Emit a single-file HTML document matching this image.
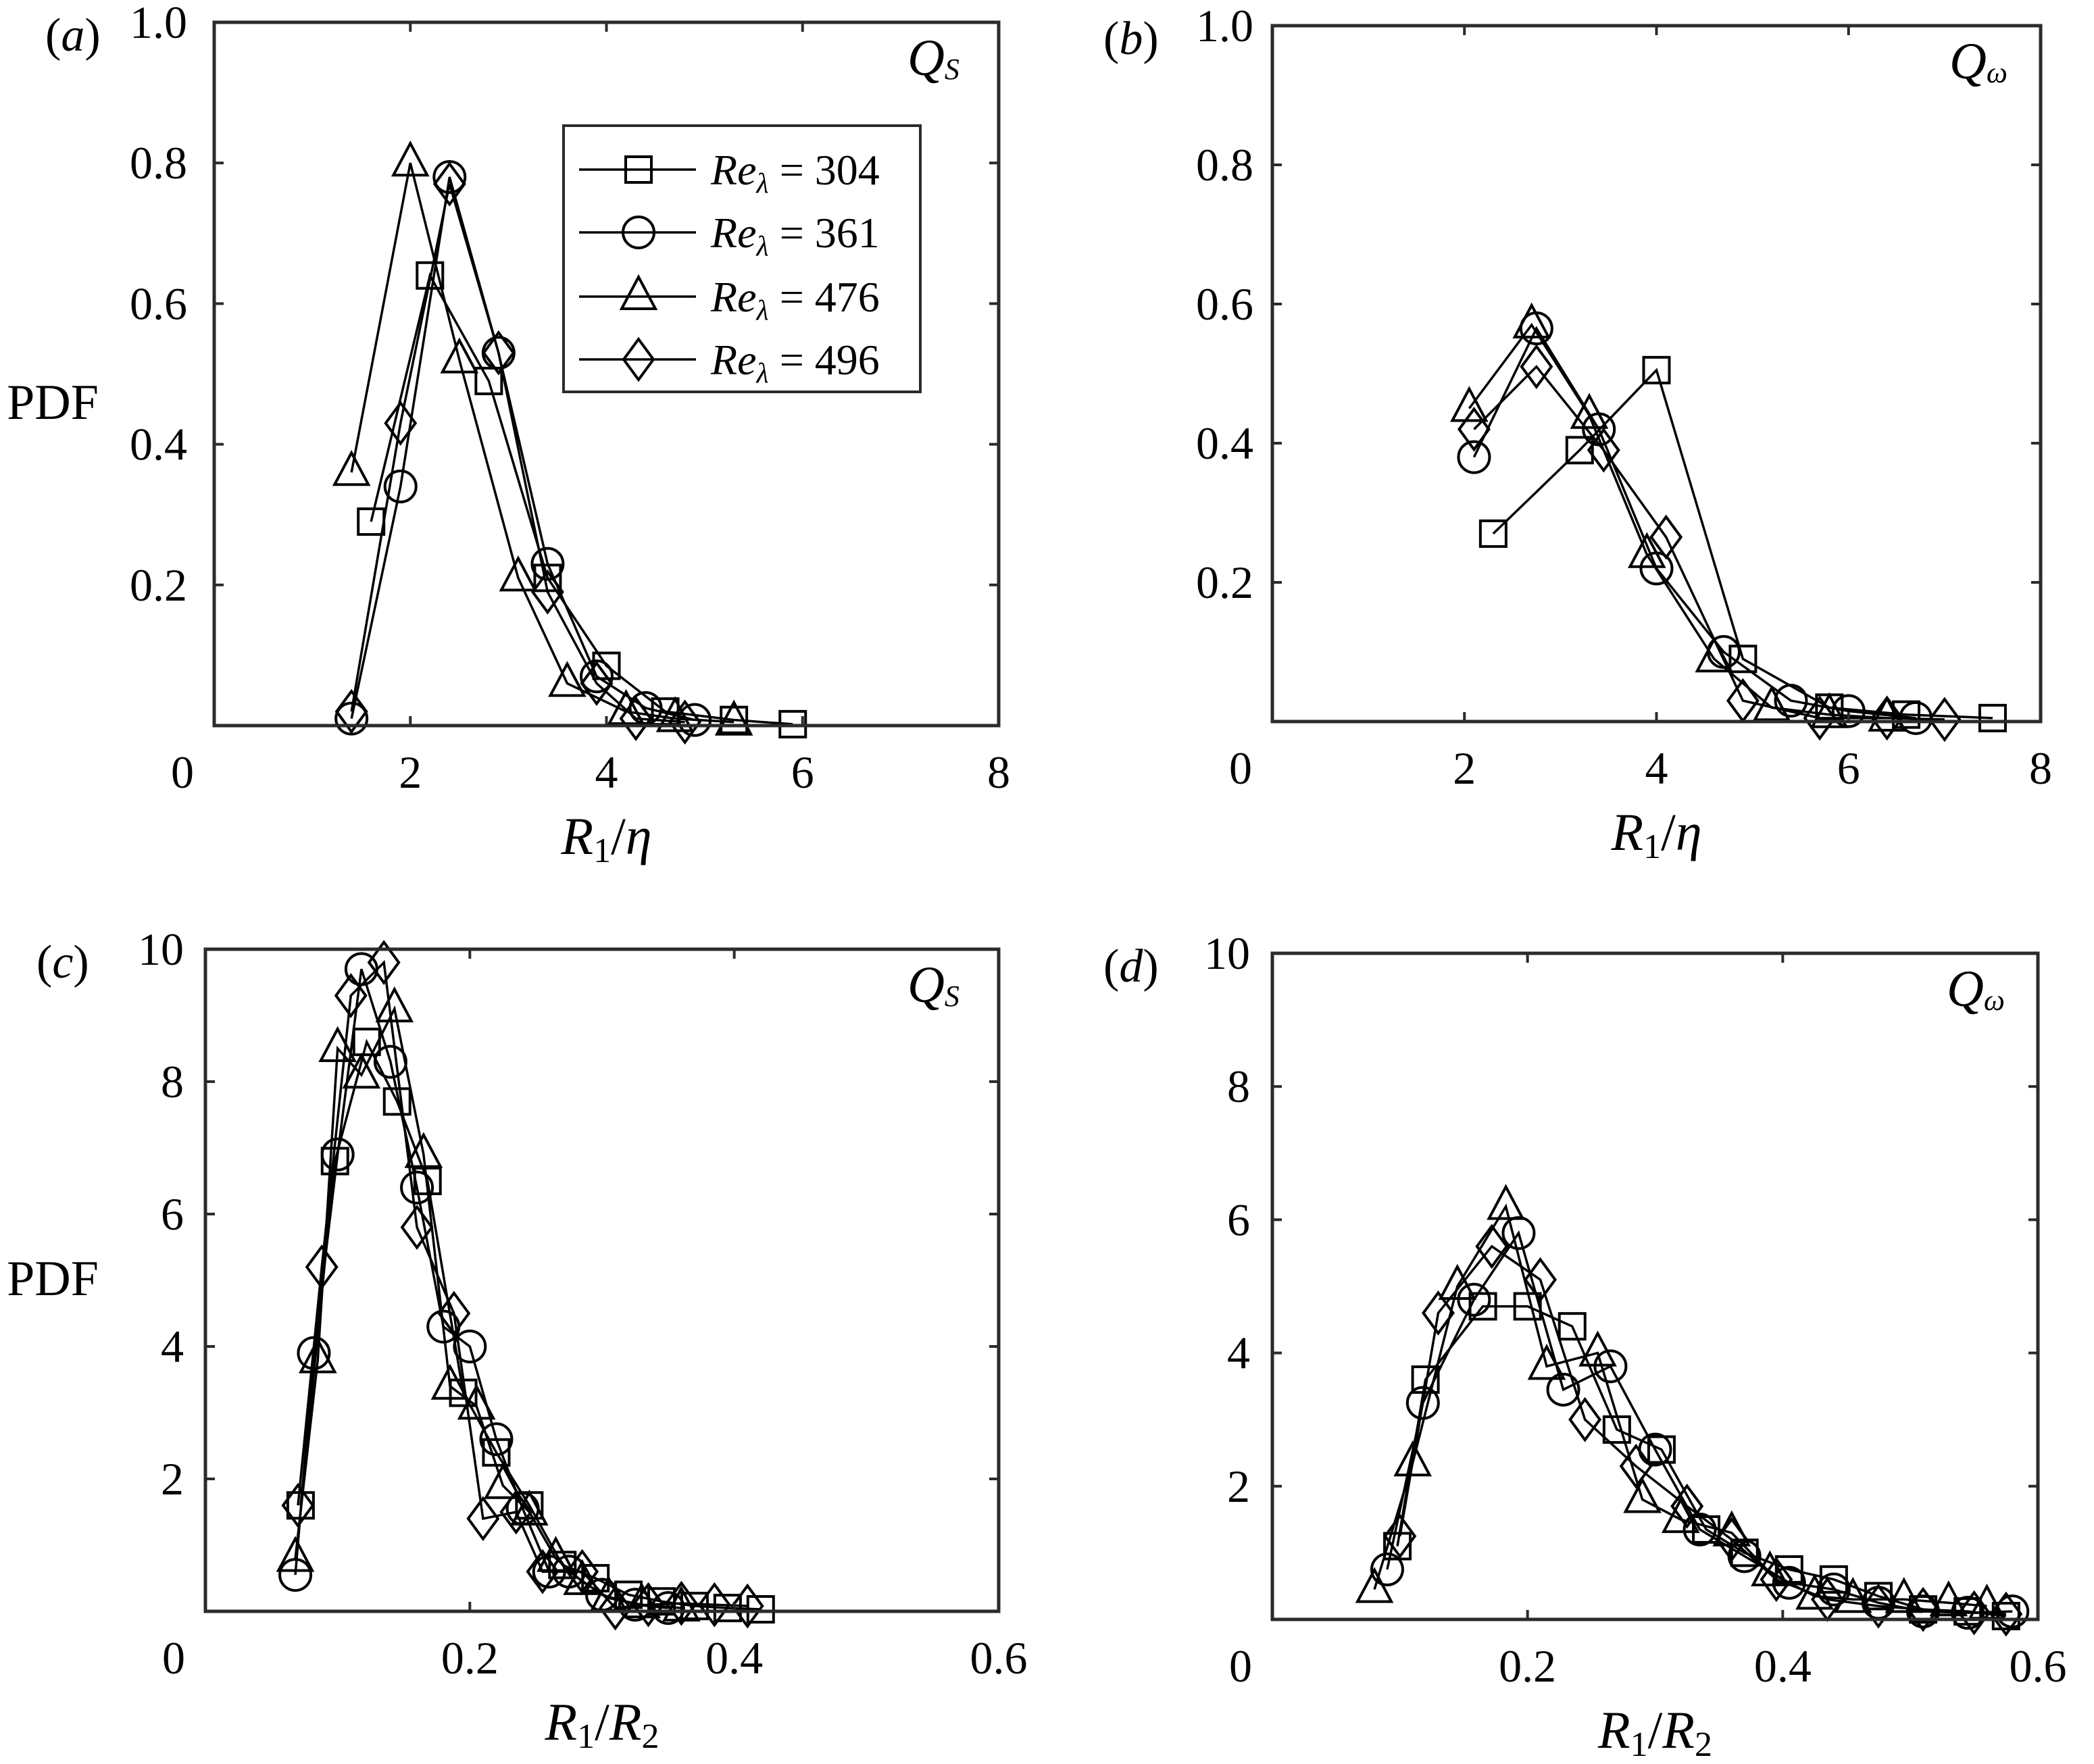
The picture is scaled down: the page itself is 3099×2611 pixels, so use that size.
<!DOCTYPE html>
<html><head><meta charset="utf-8"><style>
html,body{margin:0;padding:0;background:#fff;}
svg{display:block;font-family:"Liberation Serif","Times New Roman",serif;}
svg text{font-family:"Liberation Serif","Times New Roman",serif;fill:#000;}
</style></head><body>
<svg id="fig" width="3099" height="2611" viewBox="0 0 3099 2611" xmlns="http://www.w3.org/2000/svg" font-family="Liberation Serif, serif"></svg>
<script>
// ---- data (x, y pairs per series) ----
const seriesNames = ["304","361","476","496"];
const markerTypes = ["square","circle","triangle","diamond"];

const aSqX=[1.6,2.2,2.8,3.4,4.0,4.6,5.3,5.9];
const aSqY=[0.29,0.64,0.49,0.21,0.085,0.02,0.008,0.002];
const aCiX=[1.4,1.9,2.4,2.9,3.4,3.9,4.4,4.9];
const aCiY=[0.01,0.34,0.78,0.53,0.23,0.07,0.025,0.008];
const aTrX=[1.4,2.0,2.5,3.1,3.6,4.2,4.7,5.3];
const aTrY=[0.36,0.80,0.52,0.21,0.06,0.02,0.01,0.005];
const aDiX=[1.4,1.9,2.4,2.9,3.4,3.9,4.3,4.8];
const aDiY=[0.02,0.43,0.77,0.53,0.19,0.06,0.01,0.005];

const bSqX=[2.3,3.2,4.0,4.9,5.8,6.6,7.5];
const bSqY=[0.27,0.39,0.505,0.09,0.02,0.01,0.005];
const bCiX=[2.1,2.75,3.4,4.0,4.7,5.4,6.0,6.7];
const bCiY=[0.38,0.565,0.42,0.22,0.10,0.03,0.015,0.005];
const bTrX=[2.05,2.7,3.3,3.9,4.6,5.2,5.8,6.4];
const bTrY=[0.45,0.57,0.44,0.24,0.09,0.02,0.01,0.005];
const bDiX=[2.1,2.75,3.45,4.1,4.9,5.7,6.4,7.0];
const bDiY=[0.42,0.51,0.39,0.265,0.03,0.005,0.005,0.003];

const cSqX=[0.072,0.098,0.122,0.145,0.168,0.195,0.22,0.245,0.27,0.295,0.32,0.345,0.37,0.395,0.42];
const cSqY=[1.6,6.8,8.6,7.7,6.5,3.3,2.4,1.6,0.7,0.5,0.25,0.15,0.08,0.05,0.03];
const cCiX=[0.068,0.082,0.10,0.118,0.14,0.16,0.18,0.2,0.22,0.24,0.26,0.275,0.3,0.325,0.35];
const cCiY=[0.55,3.9,6.9,9.7,8.3,6.4,4.3,4.0,2.6,1.55,0.6,0.6,0.25,0.1,0.05];
const cTrX=[0.068,0.085,0.1,0.118,0.143,0.165,0.185,0.205,0.225,0.245,0.265,0.285,0.305,0.33,0.36];
const cTrY=[0.8,3.8,8.5,8.1,9.1,6.9,3.4,3.1,1.9,1.5,0.8,0.45,0.2,0.1,0.05];
const cDiX=[0.07,0.088,0.11,0.135,0.16,0.188,0.21,0.235,0.255,0.285,0.31,0.335,0.36,0.385,0.41];
const cDiY=[1.6,5.2,9.3,9.8,5.8,4.5,1.4,1.5,0.6,0.6,0.05,0.1,0.12,0.1,0.08];

const dSqX=[0.098,0.12,0.165,0.2,0.235,0.27,0.305,0.34,0.37,0.405,0.44,0.475,0.51,0.545,0.575];
const dSqY=[1.1,3.6,4.7,4.7,4.4,2.85,2.55,1.35,1.0,0.75,0.6,0.35,0.15,0.12,0.05];
const dCiX=[0.09,0.118,0.158,0.193,0.228,0.265,0.3,0.335,0.37,0.405,0.44,0.475,0.51,0.545,0.58];
const dCiY=[0.75,3.25,4.8,5.8,3.45,3.8,2.55,1.35,0.95,0.55,0.45,0.25,0.12,0.1,0.12];
const dTrX=[0.08,0.11,0.145,0.183,0.215,0.255,0.29,0.32,0.36,0.39,0.425,0.455,0.495,0.53,0.56];
const dTrY=[0.45,2.35,5.0,6.2,3.8,4.0,1.8,1.5,1.3,0.7,0.35,0.3,0.3,0.25,0.2];
const dDiX=[0.1,0.13,0.172,0.21,0.245,0.285,0.325,0.36,0.395,0.435,0.475,0.51,0.55,0.575];
const dDiY=[1.25,4.6,5.6,5.1,3.0,2.3,1.7,1.2,0.6,0.3,0.2,0.15,0.1,0.08];

const xTicksAB=[2,4,6,8], xTickLabelsAB=["2","4","6","8"];
const yTicksAB=[0.2,0.4,0.6,0.8,1.0], yTickLabelsAB=["0.2","0.4","0.6","0.8","1.0"];
const xTicksCD=[0.2,0.4,0.6], xTickLabelsCD=["0.2","0.4","0.6"];
const yTicksCD=[2,4,6,8,10], yTickLabelsCD=["2","4","6","8","10"];

const NS="http://www.w3.org/2000/svg";
const FONT='"Liberation Serif", serif';
const svg=document.getElementById('fig');
function mk(tag,attrs,parent){const e=document.createElementNS(NS,tag);for(const k in attrs)e.setAttribute(k,attrs[k]);if(tag==='text')e.setAttribute('font-family',FONT);(parent||svg).appendChild(e);return e;}

function marker(g,type,cx,cy){
  let e;
  if(type==="square") e=mk('rect',{x:cx-19,y:cy-19,width:38,height:38},g);
  else if(type==="circle") e=mk('circle',{cx:cx,cy:cy,r:23},g);
  else if(type==="triangle") e=mk('polygon',{points:`${cx},${cy-29} ${cx-25},${cy+18} ${cx+25},${cy+18}`},g);
  else e=mk('polygon',{points:`${cx},${cy-30} ${cx+22},${cy} ${cx},${cy+30} ${cx-22},${cy}`},g);
  e.setAttribute('fill','none');e.setAttribute('stroke','#000');e.setAttribute('stroke-width','4');
  return e;
}

function panel(id,box,xmax,ymax,xt,xtl,yt,ytl,series,label,qText,qSub,xTitle2,yLabOff){
  const {L,T,R,B}=box;
  const sx=v=>L+(v/xmax)*(R-L), sy=v=>B-(v/ymax)*(B-T);
  const g=mk('g',{});
  
  
  series.forEach((s,i)=>{
    const sg=mk('g',{},g);
    
    
    const pts=s[0].map((x,j)=>sx(x)+','+sy(s[1][j])).join(' ');
    mk('polyline',{points:pts,fill:'none',stroke:'#000','stroke-width':3.5},sg);
    s[0].forEach((x,j)=>{const m=marker(sg,markerTypes[i],sx(x),sy(s[1][j]));
      
      });
  });
  const ax=mk('rect',{x:L,y:T,width:R-L,height:B-T,fill:'none',stroke:'#2b2b2b','stroke-width':5},g);
  
  
  xt.forEach((v,i)=>{const x=sx(v);
    mk('line',{x1:x,y1:B,x2:x,y2:B-14,stroke:'#2b2b2b','stroke-width':4},g);
    mk('line',{x1:x,y1:T,x2:x,y2:T+14,stroke:'#2b2b2b','stroke-width':4},g);
    const t=mk('text',{x:x,y:B+92,'font-size':68,'text-anchor':'middle'},g);t.textContent=xtl[i];
    
    });
  yt.forEach((v,i)=>{const y=sy(v);
    mk('line',{x1:L,y1:y,x2:L+14,y2:y,stroke:'#2b2b2b','stroke-width':4},g);
    mk('line',{x1:R,y1:y,x2:R-14,y2:y,stroke:'#2b2b2b','stroke-width':4},g);
    const t=mk('text',{x:L-yLabOff,y:y+23,'font-size':68,'text-anchor':'end'},g);t.textContent=ytl[i];
    
    });
  const z=mk('text',{x:L-30,y:B+92,'font-size':68,'text-anchor':'end'},g);z.textContent='0';
  
  
  const pl=mk('text',{x:L-250,y:T+42,'font-size':70},g);
  pl.innerHTML='(<tspan font-style="italic">'+label+'</tspan>)';
  
  
  const q=mk('text',{x:R-135,y:T+78,'font-size':76,'font-style':'italic'},g);
  q.innerHTML='Q<tspan font-size="44" dy="6">'+qSub+'</tspan>';
  
  
  const xtEl=mk('text',{x:(L+R)/2,y:B+190,'font-size':78,'text-anchor':'middle','font-style':'italic'},g);
  xtEl.innerHTML='R<tspan font-size="52" dy="12" font-style="normal">1</tspan><tspan dy="-12" font-style="normal">/</tspan>'+xTitle2;
  
  
  return {sx,sy};
}

panel('a',{L:317,T:33,R:1478,B:1074},8,1.0,xTicksAB,xTickLabelsAB,yTicksAB,yTickLabelsAB,
  [[aSqX,aSqY],[aCiX,aCiY],[aTrX,aTrY],[aDiX,aDiY]],'a','Q','S','η',40);
panel('b',{L:1883,T:38,R:3020,B:1068},8,1.0,xTicksAB,xTickLabelsAB,yTicksAB,yTickLabelsAB,
  [[bSqX,bSqY],[bCiX,bCiY],[bTrX,bTrY],[bDiX,bDiY]],'b','Q','ω','η',28);
panel('c',{L:304,T:1405,R:1478,B:2385},0.6,10,xTicksCD,xTickLabelsCD,yTicksCD,yTickLabelsCD,
  [[cSqX,cSqY],[cCiX,cCiY],[cTrX,cTrY],[cDiX,cDiY]],'c','Q','S','R<tspan font-size="52" dy="12" font-style="normal">2</tspan>',32);
panel('d',{L:1883,T:1411,R:3016,B:2397},0.6,10,xTicksCD,xTickLabelsCD,yTicksCD,yTickLabelsCD,
  [[dSqX,dSqY],[dCiX,dCiY],[dTrX,dTrY],[dDiX,dDiY]],'d','Q','ω','R<tspan font-size="52" dy="12" font-style="normal">2</tspan>',33);

[[78,620],[78,1917]].forEach(p=>{const t=mk('text',{x:p[0],y:p[1],'font-size':74,'text-anchor':'middle'});t.textContent='PDF';
  
  });

const lg=mk('g',{});


mk('rect',{x:834,y:186,width:528,height:394,fill:'#fff',stroke:'#2b2b2b','stroke-width':4},lg);
const legY=[251,344,439,532];
seriesNames.forEach((n,i)=>{
  const e=mk('g',{},lg);
  
  
  mk('line',{x1:857,y1:legY[i],x2:1030,y2:legY[i],stroke:'#000','stroke-width':3.5},e);
  marker(e,markerTypes[i],945,legY[i]);
  const t=mk('text',{x:1052,y:legY[i]+22,'font-size':64},e);
  t.innerHTML='<tspan font-style="italic">Re</tspan><tspan font-style="italic" font-size="42" dy="12">λ</tspan><tspan dy="-12"> = '+n+'</tspan>';
});
</script>
</body></html>
